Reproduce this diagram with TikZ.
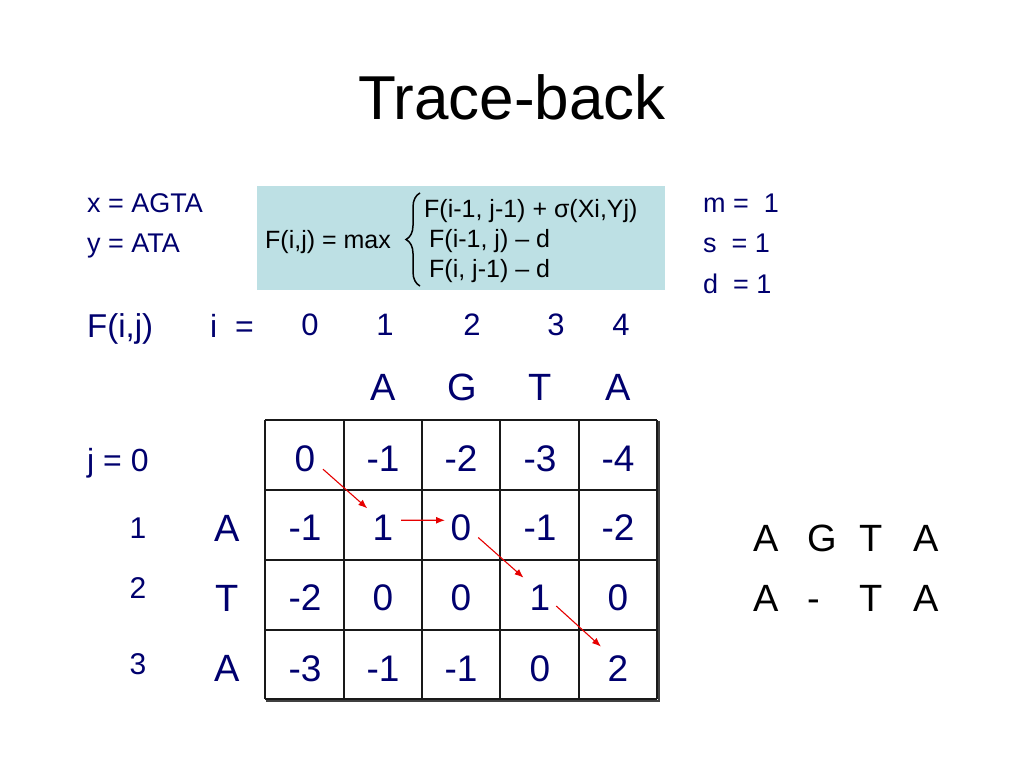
\documentclass[tikz,border=0pt]{standalone}
\usepackage{fontspec}
\setmainfont{Liberation Sans}
\usetikzlibrary{arrows.meta,decorations.pathreplacing}
\definecolor{navy}{RGB}{0,0,110}
\definecolor{boxblue}{RGB}{189,224,228}
\definecolor{arrred}{RGB}{230,0,0}
\newcommand{\fs}[1]{\fontsize{#1}{#1}\selectfont}
\tikzset{
  lbl/.style={inner sep=0pt, text=navy},
  ttl/.style={inner sep=0pt, text=black, font=\fs{62}},
  small/.style={lbl, font=\fs{27}},
  formula/.style={inner sep=0pt, text=black, font=\fs{25}},
  hnum/.style={lbl, font=\fs{31}},
  rnum/.style={lbl, font=\fs{30}},
  big/.style={lbl, font=\fs{38}},
  cell/.style={lbl, font=\fs{37}},
  aln/.style={inner sep=0pt, text=black, font=\fs{38}},
  grid/.style={line width=1.1pt, draw=black!90},
  arr/.style={draw=arrred, line width=1.1pt, -{Latex[length=9pt,width=7pt]}},
}
\begin{document}
\begin{tikzpicture}[x=1pt,y=-1pt]
\useasboundingbox[fill=white] (0,0) rectangle (1024,768);
% title
\node[ttl, anchor=base] (title) at (512,119) {Trace-back};
% sequences
\node[small, anchor=base west] (xs) at (87,212) {x = AGTA};
\node[small, anchor=base west] (ys) at (87,252) {y = ATA};
% formula box
\fill[boxblue] (257,186) rectangle (665,290);
\node[formula, anchor=base west] (fl) at (265,248) {F(i,j) = max};
\draw[line width=1.5pt, decorate, decoration={brace, amplitude=14pt}] (420,286) -- (420,193);
\node[formula, anchor=base west] (f1) at (424,217) {F(i-1, j-1) + σ(Xi,Yj)};
\node[formula, anchor=base west] (f2) at (429,247) {F(i-1, j) – d};
\node[formula, anchor=base west] (f3) at (429,277) {F(i, j-1) – d};
% parameters
\node[small, anchor=base west] (pm) at (703,212) {m = \ 1};
\node[small, anchor=base west] (ps) at (703,252) {s \ = 1};
\node[small, anchor=base west] (pd) at (703,293) {d \ = 1};
% header
\node[lbl, font=\fs{33}, anchor=base west] (fij) at (87,337) {F(i,j)};
\node[lbl, font=\fs{32}, anchor=base west] (ieq) at (210,337) {i \ =};
\foreach \n/\x in {0/310,1/385,2/472,3/556,4/621}
  \node[hnum, anchor=base] (h\n) at (\x,335) {\n};
\foreach \l/\x [count=\k] in {A/383,G/462,T/540,A/618}
  \node[big, anchor=base] (hl\k) at (\x,400) {\l};
% row labels
\node[lbl, font=\fs{32}, anchor=base west] (j0) at (87,471) {j = 0};
\foreach \n/\y in {1/538,2/598,3/674}
  \node[rnum, anchor=base] (rn\n) at (138,\y) {\n};
\foreach \l/\y [count=\k] in {A/541,T/611,A/681}
  \node[big, anchor=base] (rl\k) at (227,\y) {\l};
% table grid
\foreach \x in {265,344,422,500,579,657}
  \draw[grid] (\x,420) -- (\x,699);
\foreach \y in {420,490,560,630,699}
  \draw[grid] (265,\y) -- (657,\y);
\draw[line width=2pt, draw=black!75] (659,421) -- (659,701) -- (266,701);
% cells
\foreach \r/\y/\vals in {0/471/{0,-1,-2,-3,-4}, 1/540/{-1,1,0,-1,-2}, 2/610/{-2,0,0,1,0}, 3/681/{-3,-1,-1,0,2}}{
  \foreach \v/\x [count=\c from 0] in \vals {
    \pgfmathsetmacro{\cx}{{305,383,461,540,618}[\c]}
    \node[cell, anchor=base] (c\r\c) at (\cx,\y) {\v};
  }
}
% trace-back arrows
\draw[arr, shorten <=24pt, shorten >=21pt] ([yshift=5pt]c00.center) -- ([yshift=5pt]c11.center);
\draw[arr, shorten <=18pt, shorten >=16pt] ([yshift=7pt]c11.center) -- ([yshift=7pt]c12.center);
\draw[arr, shorten <=23pt, shorten >=22pt] ([yshift=5pt]c12.center) -- ([yshift=5pt]c23.center);
\draw[arr, shorten <=22pt, shorten >=23pt] ([yshift=6pt]c23.center) -- ([yshift=6pt]c34.center);
% alignment
\foreach \l/\x [count=\k] in {A/766,G/822,T/871,A/926}
  \node[aln, anchor=base] (a\k) at (\x,551) {\l};
\foreach \l/\x [count=\k] in {A/766,-/814,T/871,A/926}
  \node[aln, anchor=base] (b\k) at (\x,611) {\l};
\end{tikzpicture}
\end{document}
